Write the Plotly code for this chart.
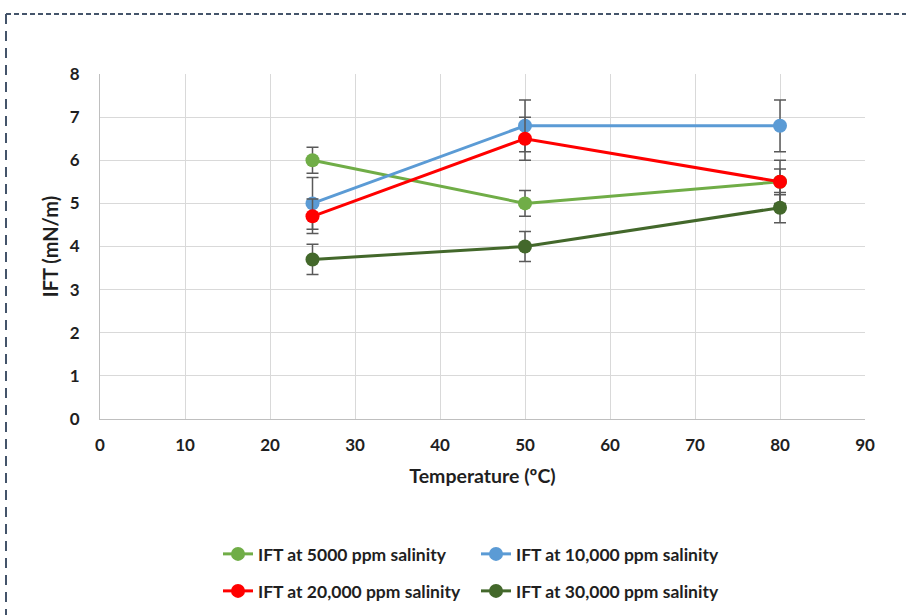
import plotly.graph_objects as go

temperature = [25, 50, 80]
ift_5000 = [6.0, 5.0, 5.5]
err_5000 = [0.3, 0.3, 0.3]
ift_10000 = [5.0, 6.8, 6.8]
err_10000 = [0.6, 0.6, 0.6]
ift_20000 = [4.7, 6.5, 5.5]
err_20000 = [0.4, 0.5, 0.5]
ift_30000 = [3.7, 4.0, 4.9]
err_30000 = [0.35, 0.35, 0.35]

names = ["IFT at 5000 ppm salinity", "IFT at 10,000 ppm salinity",
         "IFT at 20,000 ppm salinity", "IFT at 30,000 ppm salinity"]
colors = ["#70AD47", "#5B9BD5", "#FF0000", "#43682B"]
series = [ift_5000, ift_10000, ift_20000, ift_30000]
errors = [err_5000, err_10000, err_20000, err_30000]
legends = ["legend", "legend", "legend2", "legend2"]

W, H = 906, 615
L, R, T, B = 100, 41, 74, 196
pw, ph = W - L - R, H - T - B

def px_x(px):
    return (px - L) / pw

def px_y(py):
    return (H - B - py) / ph

FONT = "Lato"
TXT = "#1F1F1F"
fig = go.Figure()
for name, col, ys, es, lg in zip(names, colors, series, errors, legends):
    fig.add_trace(go.Scatter(
        x=temperature, y=ys, name=name, mode="lines+markers",
        line=dict(color=col, width=3),
        marker=dict(color=col, size=14),
        error_y=dict(type="data", array=es, visible=True, color="#595959",
                     thickness=1.5, width=6),
        legend=lg,
    ))

legend_common = dict(orientation="h", font=dict(family=FONT, size=17.5, color=TXT, weight="bold"),
                     bgcolor="rgba(0,0,0,0)", entrywidth=213, entrywidthmode="pixels",
                     xanchor="left", yanchor="middle", tracegroupgap=0)

fig.update_layout(
    width=W, height=H,
    margin=dict(l=L, r=R, t=T, b=B, autoexpand=False),
    plot_bgcolor="white", paper_bgcolor="white",
    font=dict(family=FONT, color=TXT),
    showlegend=True,
    legend=dict(x=px_x(218), y=px_y(554), **legend_common),
    legend2=dict(x=px_x(218), y=px_y(591), **legend_common),
    xaxis=dict(range=[0, 90], dtick=10, tick0=0, showgrid=True, gridcolor="#D9D9D9", gridwidth=1,
               showline=True, linecolor="#BFBFBF", linewidth=1, zeroline=False,
               ticks="outside", ticklen=11, tickcolor="rgba(0,0,0,0)",
               tickfont=dict(family=FONT, size=17, color=TXT, weight="bold"),
               title=dict(text="Temperature (ºC)", standoff=14,
                          font=dict(family=FONT, size=19.5, color=TXT, weight="bold"))),
    yaxis=dict(range=[0, 8], dtick=1, tick0=0, showgrid=True, gridcolor="#D9D9D9", gridwidth=1,
               showline=True, linecolor="#BFBFBF", linewidth=1, zeroline=False,
               ticks="outside", ticklen=16, tickcolor="rgba(0,0,0,0)",
               tickfont=dict(family=FONT, size=17, color=TXT, weight="bold"),
               title=dict(text="IFT (mN/m)", standoff=5,
                          font=dict(family=FONT, size=20, color=TXT, weight="bold"))),
    shapes=[
        dict(type="line", xref="paper", yref="paper", x0=px_x(6), x1=px_x(910), y0=px_y(14), y1=px_y(14),
             line=dict(color="#44546A", width=2, dash="5px,3px"), layer="above"),
        dict(type="line", xref="paper", yref="paper", x0=px_x(6), x1=px_x(6), y0=px_y(14), y1=px_y(620),
             line=dict(color="#44546A", width=2, dash="10px,7px"), layer="above"),
    ],
)

fig.write_html("out.html")
